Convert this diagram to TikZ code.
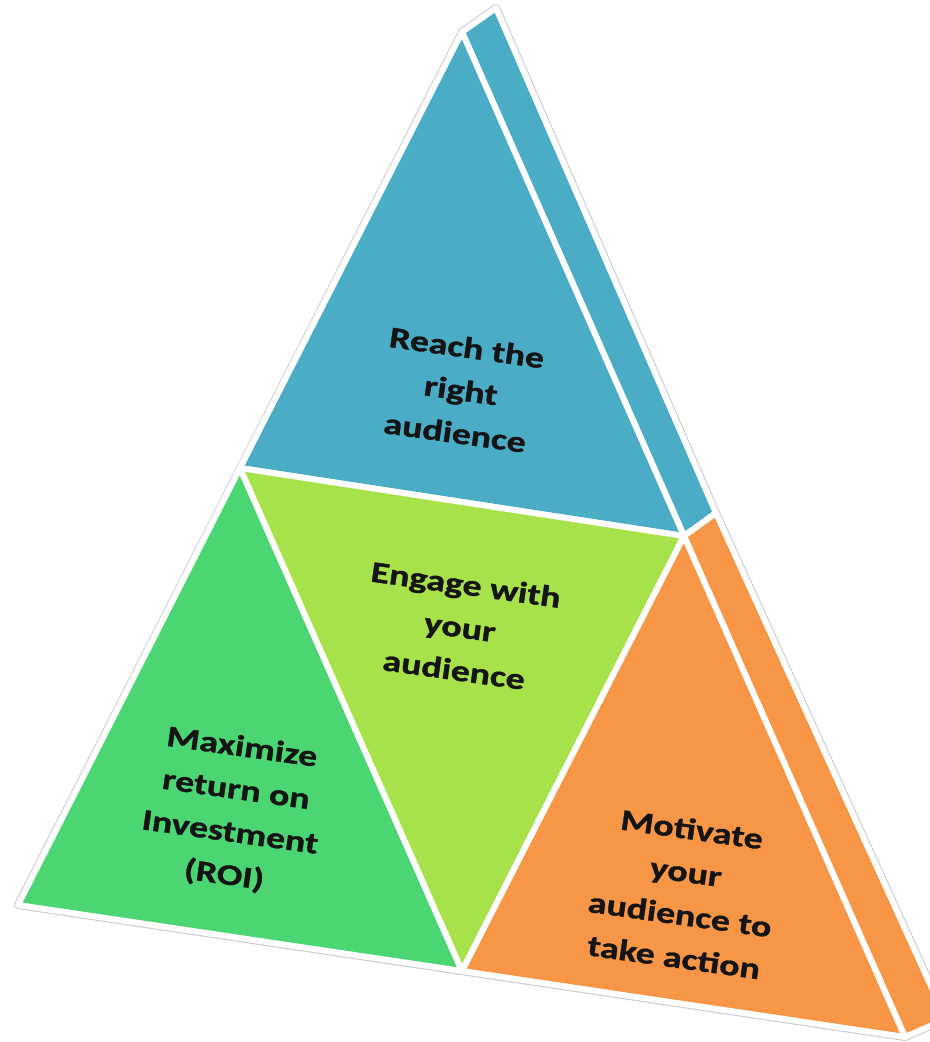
\documentclass[tikz,border=0pt]{standalone}
\usepackage{fontspec}
\setmainfont{Carlito}
\newfontfamily\facefont{Carlito}[FakeStretch=1.27,FakeBold=1.2]
\definecolor{reachblue}{HTML}{4BACC6}
\definecolor{engagelime}{HTML}{A8E24A}
\definecolor{roigreen}{HTML}{4CD673}
\definecolor{actionorange}{HTML}{F79646}
\tikzset{
  face/.style={draw=white,line width=3.4pt,line join=round},
  rim/.style={draw=black!20,line width=4.6pt,line join=round,fill=white},
  facetext/.style={font=\facefont\bfseries\fontsize{17}{24.5}\selectfont,align=center,text=black!92,rotate=-8}
}
\begin{document}
\begin{tikzpicture}[x=0.02cm,y=-0.02cm]
  \useasboundingbox (0,0) rectangle (930,1042);
  \clip (0,0) rectangle (930,1042);
  % corners of the front face and of the side strip
  \coordinate (top) at (462,32);
  \coordinate (left) at (18,905);
  \coordinate (right) at (905,1037);
  \coordinate (midleft) at (240,468);
  \coordinate (midright) at (684,536);
  \coordinate (midbottom) at (462,971);
  \coordinate (topback) at (496,8);
  \coordinate (midback) at (716,513);
  \coordinate (rightback) at (946,1019);
  % outline
  \draw[rim] (left) -- (top) -- (topback) -- (midback) -- (rightback) -- (right) -- cycle;
  % side strip
  \filldraw[face,fill=reachblue] (top) -- (topback) -- (midback) -- (midright) -- cycle;
  \filldraw[face,fill=actionorange] (midright) -- (midback) -- (rightback) -- (right) -- cycle;
  % front face
  \filldraw[face,fill=reachblue] (top) -- (midleft) -- (midright) -- cycle;
  \filldraw[face,fill=roigreen] (midleft) -- (left) -- (midbottom) -- cycle;
  \filldraw[face,fill=engagelime] (midleft) -- (midright) -- (midbottom) -- cycle;
  \filldraw[face,fill=actionorange] (midright) -- (midbottom) -- (right) -- cycle;
  % labels
  \node[facetext] (reach) at (461,390) {Reach the\\right\\audience};
  \node[facetext] (engage) at (460,627) {Engage with\\your\\audience};
  \node[facetext] (roi) at (233,812) {Maximize\\return on\\Investment\\(ROI)};
  \node[facetext] (motivate) at (683,893) {Motivate\\your\\audience to\\take action};
\end{tikzpicture}
\end{document}
